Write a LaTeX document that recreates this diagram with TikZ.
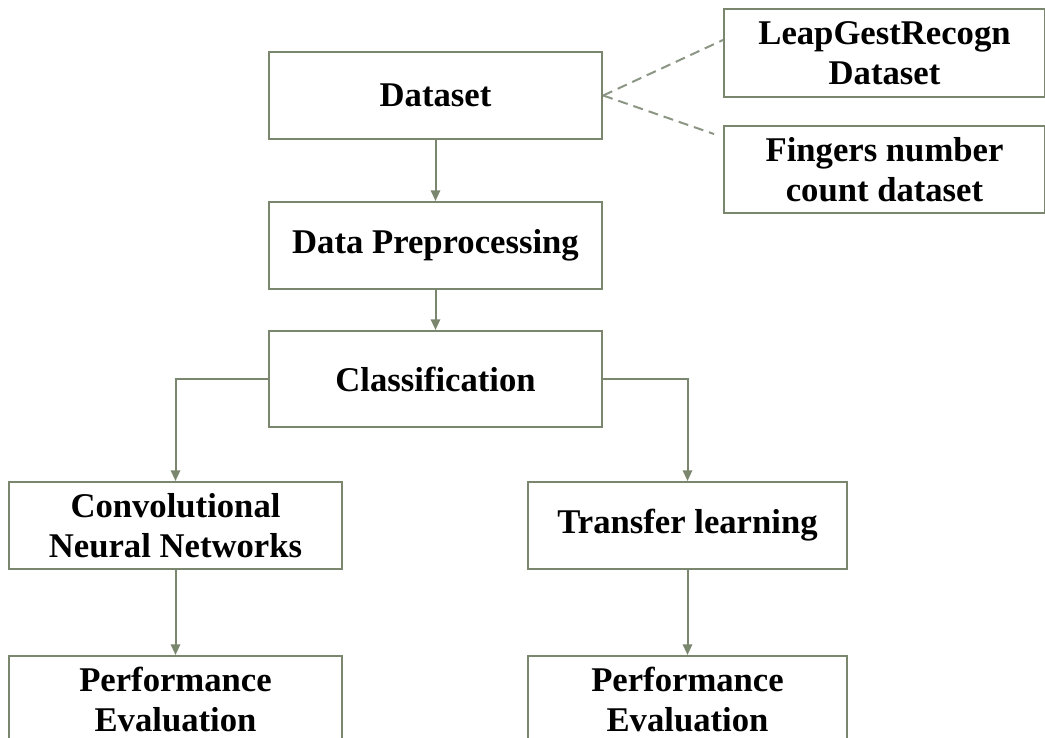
\documentclass[tikz,border=0pt]{standalone}
\usepackage{fontspec}
\setmainfont{Liberation Serif}
\usetikzlibrary{positioning,arrows.meta}
\definecolor{boxline}{RGB}{122,134,110}
\definecolor{dashline}{RGB}{140,150,132}
\begin{document}
\begin{tikzpicture}[
        x=0.75pt, y=-0.75pt,
        stage/.style={
            rectangle,
            draw=boxline,
            line width=1.5pt,
            minimum width=250pt,
            minimum height=65.25pt,
            align=center,
            inner sep=2pt,
            font=\fontsize{26}{30}\selectfont\bfseries
        },
        flow/.style={
            ->,
            draw=boxline,
            line width=1.5pt,
            >={Triangle[length=8pt,width=7pt]}
        },
        source/.style={
            draw=dashline,
            line width=1.5pt,
            dash pattern=on 7.5pt off 4.5pt
        }
    ]

        \useasboundingbox (0,0) rectangle (1045,738);

        \node[stage] (dataset) at (435.5,95.5) {Dataset};

        \node[stage, below=45.75pt of dataset] (prep) {Data Preprocessing};

        \node[stage, below=30pt of prep, minimum height=72pt] (classif)
            {Classification};

        \node[stage] (cnn) at (175.5,525.5) {Convolutional\\Neural Networks};

        \node[stage, minimum width=239.25pt] (transfer) at (687.5,525.5)
            {Transfer learning};

        \node[stage, below=63.75pt of cnn] (evalcnn) {Performance\\Evaluation};

        \node[stage, minimum width=239.25pt, below=63.75pt of transfer] (evaltl)
            {Performance\\Evaluation};

        % the two data sources
        \node[stage, minimum width=240.75pt, minimum height=66pt] (leap) at (884.5,53)
            {LeapGestRecogn\\Dataset};

        \node[stage, minimum width=240.75pt] (fingers) at (884.5,169.5)
            {Fingers number\\count dataset};

        \draw[source] (dataset.east) -- ([yshift=9.75pt]leap.west);

        \draw[source] (dataset.east) -- ([xshift=-6.75pt,yshift=-6.75pt]fingers.north west);

        \draw[flow] (dataset) -- (prep);

        \draw[flow] (prep) -- (classif);

        \draw[flow] (classif.west) -| (cnn.north);

        \draw[flow] (classif.east) -| (transfer.north);

        \draw[flow] (cnn) -- (evalcnn);

        \draw[flow] (transfer) -- (evaltl);

    \end{tikzpicture}
\end{document}
